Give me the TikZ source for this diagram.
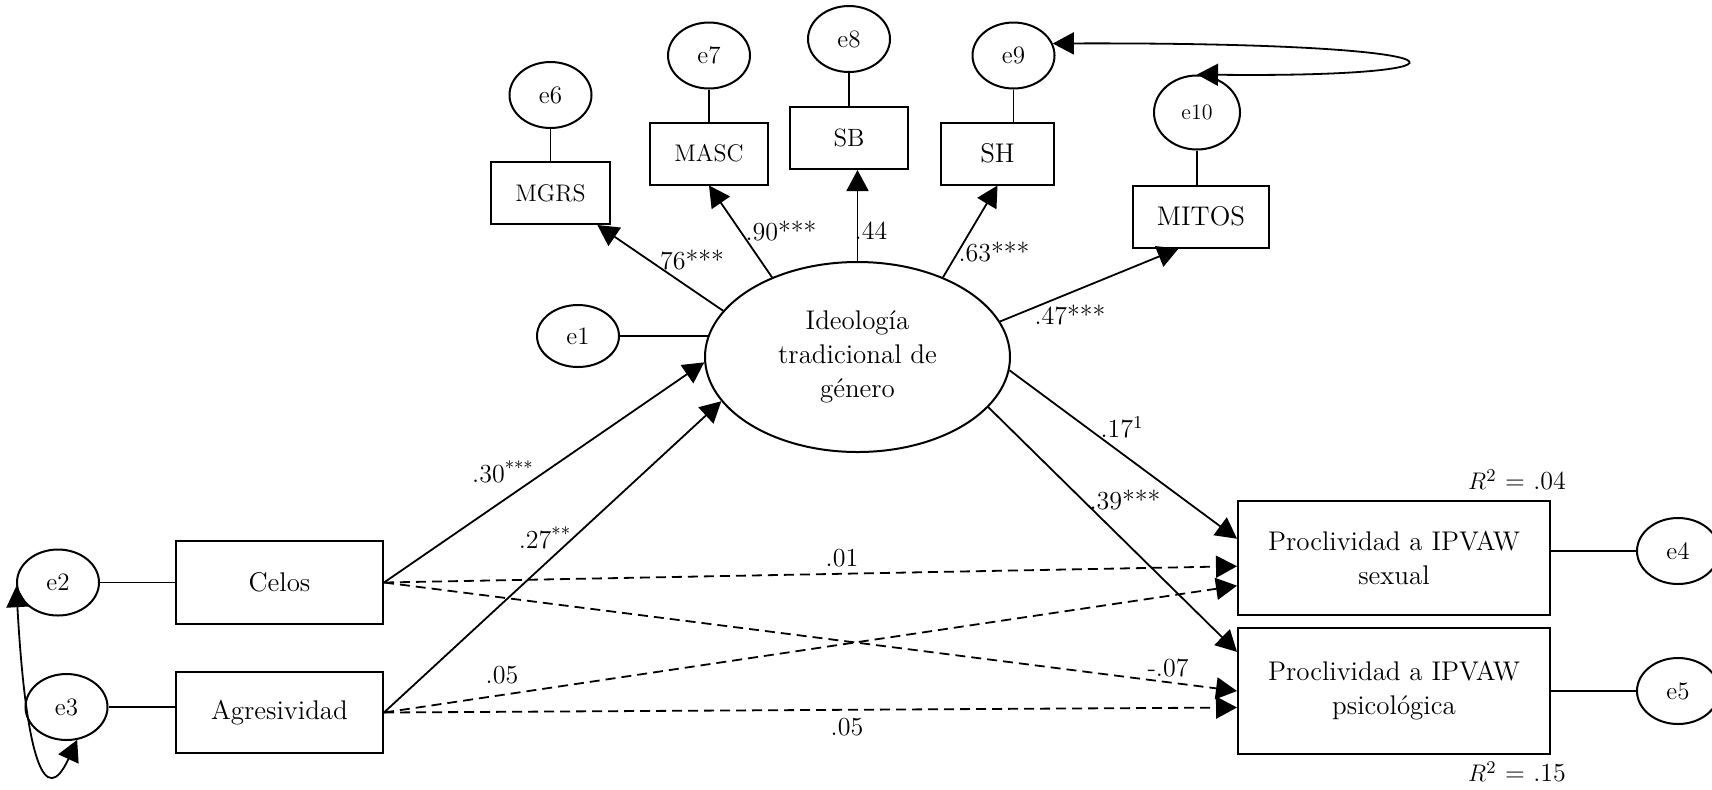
\documentclass[tikz,border=0pt]{standalone}
\usetikzlibrary{shapes.geometric, arrows.meta, positioning}

\begin{document}
\begin{tikzpicture}[
        x=0.5pt, y=-0.5pt,
        every node/.style={font=\fontsize{13.5}{17}\selectfont},
        obs/.style={rectangle, draw=black, line width=1pt, align=center, inner sep=0pt},
        ind/.style={obs, minimum width=59pt, minimum height=31pt, font=\fontsize{12.5}{15}\selectfont},
        err/.style={ellipse, draw=black, line width=1pt, minimum width=41pt, minimum height=33pt, inner sep=0pt, font=\fontsize{12.5}{15}\selectfont},
        latent/.style={ellipse, draw=black, line width=1pt, minimum width=152.5pt, minimum height=95pt, inner sep=0pt, align=center},
        coef/.style={inner sep=1pt, font=\fontsize{13}{15}\selectfont},
        arrow/.style={-{Triangle[length=10.5pt, width=11pt]}, line width=0.9pt},
        dasharrow/.style={arrow, dash pattern=on 5pt off 3pt},
        covar/.style={{Triangle[length=10.5pt, width=11pt]}-{Triangle[length=10.5pt, width=11pt]}, line width=0.9pt},
        link/.style={line width=0.9pt}
    ]
    \useasboundingbox (0,0) rectangle (1712,789);

    % Nodes
    \node[latent] (ideo) at (857.5,357) {Ideología\\ tradicional de\\ género};
    \node[obs, minimum width=103.5pt, minimum height=41.5pt] (celos) at (279.5,582.5) {Celos};
    \node[obs, minimum width=103.5pt, minimum height=40.5pt] (agres) at (279.5,712.5) {Agresividad};
    \node[obs, minimum width=156pt, minimum height=57pt] (sexual) at (1394,558) {Proclividad a IPVAW\\ sexual};
    \node[obs, minimum width=156pt, minimum height=63pt] (psico) at (1394,691) {Proclividad a IPVAW\\ psicológica};

    % Indicators of the latent factor
    \node[ind, minimum width=59.5pt, font=\fontsize{12}{14}\selectfont] (mgrs) at (550.5,193) {MGRS};
    \node[ind, font=\fontsize{12}{14}\selectfont] (masc) at (709,153.5) {MASC};
    \node[ind] (sb) at (849,138) {SB};
    \node[ind, minimum width=56.5pt, font=\fontsize{13.5}{15}\selectfont] (sh) at (997.5,153.5) {SH};
    \node[ind, minimum width=68pt, font=\fontsize{13.5}{15}\selectfont] (mitos) at (1201,216.5) {MITOS};

    % Error terms
    \node[err] (e6) [above=16pt of mgrs] {e6};
    \node[err] (e7) [above=16pt of masc] {e7};
    \node[err] (e8) [above=16.5pt of sb] {e8};
    \node[err] (e9) [above=16pt of sh, xshift=8pt] {e9};
    \node[err, minimum width=43pt, minimum height=37pt, font=\fontsize{11}{13}\selectfont] (e10) [above=17pt of mitos, xshift=-2pt] {e10};
    \node[err, minimum height=31pt] (e1) at (578,336) {e1};
    \node[err] (e2) [left=37.5pt of celos] {e2};
    \node[err] (e3) at (66.5,707) {e3};
    \node[err] (e4) at (1678,551) {e4};
    \node[err] (e5) at (1678,691) {e5};

    % Measurement part
    \draw[arrow] (ideo.161) -- (mgrs);
    \draw[arrow] (ideo.137) -- (masc.south);
    \draw[arrow] (ideo.north) -- (ideo.north |- sb.south);
    \draw[arrow] (ideo.43) -- (sh.south);
    \draw[arrow] (ideo.14) -- (mitos.235);

    \draw[link] (e6) -- (mgrs);
    \draw[link] (e7) -- (masc);
    \draw[link] (e8) -- (sb);
    \draw[link] (e9) -- (e9 |- sh.north);
    \draw[link] (e10) -- (e10 |- mitos.north);
    \draw[link] (e1) -- (ideo.172);
    \draw[link] (e2) -- (celos);
    \draw[link] (e3) -- (e3 -| agres.west);
    \draw[link] (e4) -- (e4 -| sexual.east);
    \draw[link] (e5) -- (e5 -| psico.east);

    % Structural part
    \draw[arrow] (celos.east) -- (ideo.182);
    \draw[arrow] (agres.east) -- (ideo.198);
    \draw[arrow] (ideo.355) -- (sexual.173);
    \draw[arrow] (ideo.339) -- (psico.166);
    \draw[dasharrow] (celos.east) -- (sexual.183);
    \draw[dasharrow] (celos.east) -- (psico.west);
    \draw[dasharrow] (agres.east) -- (sexual.190);
    \draw[dasharrow] (agres.east) -- (psico.186);

    % Covariances
    \draw[covar] (e2.185) .. controls (26,760) and (45,810) .. (e3.288);
    \draw[covar] (e9.17) .. controls (1494,42) and (1494,78) .. (e10.north);

    % Coefficients
    \node[coef] (c1) at (692,260) {76***};
    \node[coef] (c2) at (781,231) {.90***};
    \node[coef] (c3) at (871,231) {.44};
    \node[coef] (c4) at (994,252) {.63***};
    \node[coef] (c5) at (1070,315) {.47***};
    \node[coef] (c6) at (1122,427) {.17\textsuperscript{1}};
    \node[coef] (c7) at (1125,500) {.39***};
    \node[coef] (c8) at (503,472) {.30\textsuperscript{***}};
    \node[coef] (c9) at (545,538) {.27\textsuperscript{**}};
    \node[coef] (c10) at (842,558) {.01};
    \node[coef] (c11) at (502,675) {.05};
    \node[coef] (c12) at (847,727) {.05};
    \node[coef] (c13) at (1168,668) {-.07};
    \node[coef] (r1) at (1517,480) {$R^{2}$ = .04};
    \node[coef] (r2) at (1517,772) {$R^{2}$ = .15};

\end{tikzpicture}
\end{document}
